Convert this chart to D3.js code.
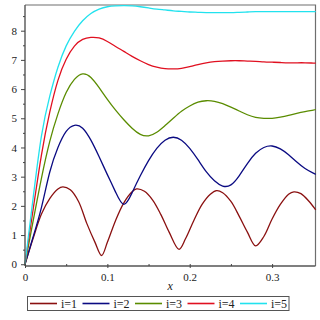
<!DOCTYPE html>
<html>
<head>
<meta charset="utf-8">
<script src="https://cdn.jsdelivr.net/npm/d3@7"></script>
<style>
  body { margin: 0; background: #fff; }
  svg { display: block; }
</style>
</head>
<body>
<div class="chart_area"></div>
<script>
// series names and colours (legend order)
var names = ["i=1", "i=2", "i=3", "i=4", "i=5"];
var colors = ["#8a1010", "#0a0a82", "#5a8c00", "#e01020", "#22e2ee"];

// i=1 has sharp minima, so it gets its own x samples
var x1 = [0, 0.01, 0.02, 0.03, 0.04, 0.046, 0.055, 0.065, 0.075, 0.085, 0.093, 0.1, 0.11, 0.12, 0.13, 0.1355,
  0.145, 0.155, 0.165, 0.175, 0.187, 0.195, 0.205, 0.215, 0.225, 0.2326, 0.24, 0.25, 0.26, 0.27, 0.28,
  0.29, 0.3, 0.31, 0.32, 0.3265, 0.335, 0.345, 0.353];
var y1 = [0, 0.9, 1.72, 2.25, 2.58, 2.65, 2.55, 2.15, 1.4, 0.75, 0.3, 0.75, 1.5, 2.1, 2.48, 2.58,
  2.5, 2.2, 1.7, 1.1, 0.51, 0.88, 1.5, 2.05, 2.4, 2.52, 2.45, 2.15, 1.65, 1.1, 0.63,
  0.95, 1.55, 2.05, 2.4, 2.48, 2.42, 2.15, 1.86];

// common x samples for i=2..5
var xs = [0, 0.01, 0.02, 0.03, 0.04, 0.05, 0.06, 0.07, 0.08, 0.09, 0.1, 0.11, 0.12, 0.13, 0.14, 0.15,
  0.16, 0.17, 0.18, 0.19, 0.2, 0.21, 0.22, 0.23, 0.24, 0.25, 0.26, 0.27, 0.28, 0.29, 0.3, 0.31,
  0.32, 0.33, 0.34, 0.35, 0.353];
var y2 = [0, 0.95, 1.95, 3.15, 4.0, 4.55, 4.76, 4.66, 4.25, 3.68, 3.07, 2.47, 2.05, 2.45, 3.03, 3.55,
  3.97, 4.25, 4.35, 4.25, 3.97, 3.58, 3.17, 2.86, 2.68, 2.72, 3.03, 3.45, 3.8, 4.0, 4.05, 3.95,
  3.75, 3.5, 3.28, 3.12, 3.08];
var y3 = [0, 1.5, 2.95, 4.2, 5.15, 5.88, 6.33, 6.52, 6.4, 6.05, 5.65, 5.28, 4.95, 4.66, 4.45, 4.4,
  4.52, 4.75, 5.0, 5.24, 5.42, 5.55, 5.6, 5.58, 5.5, 5.38, 5.25, 5.12, 5.03, 5.0, 5.0, 5.04,
  5.1, 5.17, 5.23, 5.28, 5.3];
var y4 = [0, 1.9, 3.75, 5.2, 6.3, 7.02, 7.47, 7.7, 7.77, 7.75, 7.63, 7.46, 7.29, 7.12, 6.97, 6.84,
  6.75, 6.7, 6.69, 6.71, 6.77, 6.84, 6.9, 6.94, 6.96, 6.97, 6.97, 6.96, 6.95, 6.93, 6.92, 6.91,
  6.9, 6.9, 6.9, 6.89, 6.89];
var y5 = [0, 2.3, 4.4, 5.75, 6.75, 7.48, 7.98, 8.34, 8.59, 8.74, 8.82, 8.85, 8.86, 8.85, 8.82, 8.78,
  8.74, 8.71, 8.68, 8.66, 8.64, 8.63, 8.62, 8.62, 8.62, 8.62, 8.63, 8.64, 8.65, 8.65, 8.65, 8.65,
  8.65, 8.65, 8.65, 8.65, 8.65];

var xMajor = [0, 0.1, 0.2, 0.3];
var xMinor = [0.05, 0.15, 0.25];
var yMajor = [0, 1, 2, 3, 4, 5, 6, 7, 8];
var yMinor = [0.5, 1.5, 2.5, 3.5, 4.5, 5.5, 6.5, 7.5, 8.5];

var series = [
  { name: names[0], color: colors[0], pts: x1.map((x, i) => [x, y1[i]]) },
  { name: names[1], color: colors[1], pts: xs.map((x, i) => [x, y2[i]]) },
  { name: names[2], color: colors[2], pts: xs.map((x, i) => [x, y3[i]]) },
  { name: names[3], color: colors[3], pts: xs.map((x, i) => [x, y4[i]]) },
  { name: names[4], color: colors[4], pts: xs.map((x, i) => [x, y5[i]]) }
];

var W = 320, H = 320;
var pLeft = 25, pRight = 315.5, pTop = 5, pBottom = 266;

var svg = d3.select(".chart_area").append("svg")
  .attr("width", W).attr("height", H);

var xSc = d3.scaleLinear().domain([0, 0.3527]).range([pLeft, pRight]);
var ySc = d3.scaleLinear().domain([-0.06, 8.88]).range([pBottom, pTop]);

var serif = "'Liberation Serif', 'DejaVu Serif', serif";

// frame (top and right)
svg.append("path")
  .attr("d", "M" + pLeft + "," + pTop + "H" + pRight + "V" + pBottom)
  .attr("fill", "none").attr("stroke", "#6e6e6e").attr("stroke-width", 1.2);

// curves: i=1 keeps its V-shaped minima, the rest get a smooth spline
var lineSharp = d3.line()
  .x(d => xSc(d[0])).y(d => ySc(d[1]))
  .curve(d3.curveCatmullRom.alpha(0.5));
var lineSmooth = d3.line()
  .x(d => xSc(d[0])).y(d => ySc(d[1]))
  .curve(d3.curveNatural);

svg.append("g").selectAll("path")
  .data(series)
  .enter().append("path")
    .attr("d", (d, i) => i === 0 ? lineSharp(d.pts) : lineSmooth(d.pts))
    .attr("fill", "none")
    .attr("stroke", d => d.color)
    .attr("stroke-width", 1.3);

// y axis
var yAx = svg.append("g")
  .attr("transform", "translate(" + pLeft + ",0)")
  .call(d3.axisLeft(ySc).tickValues(yMajor).tickSize(4).tickPadding(4).tickFormat(d3.format("d")));
svg.append("g")
  .attr("transform", "translate(" + pLeft + ",0)")
  .call(d3.axisLeft(ySc).tickValues(yMinor).tickSize(2).tickFormat(""))
  .select(".domain").remove();

// x axis
var xAx = svg.append("g")
  .attr("transform", "translate(0," + pBottom + ")")
  .call(d3.axisBottom(xSc).tickValues(xMajor).tickSize(2).tickPadding(5)
    .tickFormat(d => d === 0 ? "0" : d3.format(".1f")(d)));
svg.append("g")
  .attr("transform", "translate(0," + pBottom + ")")
  .call(d3.axisBottom(xSc).tickValues(xMinor).tickSize(-2).tickFormat(""))
  .select(".domain").remove();

[yAx, xAx].forEach(function(g) {
  g.select(".domain").attr("stroke", "#555").attr("stroke-width", 1.4);
  g.selectAll("text").attr("font-family", serif).attr("font-size", 11).attr("fill", "#222");
});
svg.selectAll(".tick line").attr("stroke", "#444");
// axis lines without the outer end ticks
yAx.select(".domain").attr("d", "M0," + pTop + "V" + pBottom);
xAx.select(".domain").attr("d", "M" + pLeft + ",0H" + pRight);
xAx.selectAll(".tick line").attr("y1", -2).attr("y2", 2);

// axis title
svg.append("text")
  .attr("x", (pLeft + pRight) / 2).attr("y", 290)
  .attr("text-anchor", "middle")
  .attr("font-family", serif).attr("font-style", "italic").attr("font-size", 12)
  .attr("fill", "#222")
  .text("x");

// legend
var lg = svg.append("g");
lg.append("rect")
  .attr("x", 27.5).attr("y", 296.5).attr("width", 261.5).attr("height", 14)
  .attr("fill", "#fff").attr("stroke", "#555").attr("stroke-width", 1);
var item = lg.selectAll(".item").data(series).enter().append("g")
  .attr("transform", (d, i) => "translate(" + (30 + 52.5 * i) + ",0)");
item.append("line")
  .attr("x1", 0).attr("x2", 27).attr("y1", 303.5).attr("y2", 303.5)
  .attr("stroke", d => d.color).attr("stroke-width", 1.6);
item.append("text")
  .attr("x", 31).attr("y", 307.5)
  .attr("font-family", serif).attr("font-size", 12).attr("fill", "#222")
  .text(d => d.name);
</script>
</body>
</html>
